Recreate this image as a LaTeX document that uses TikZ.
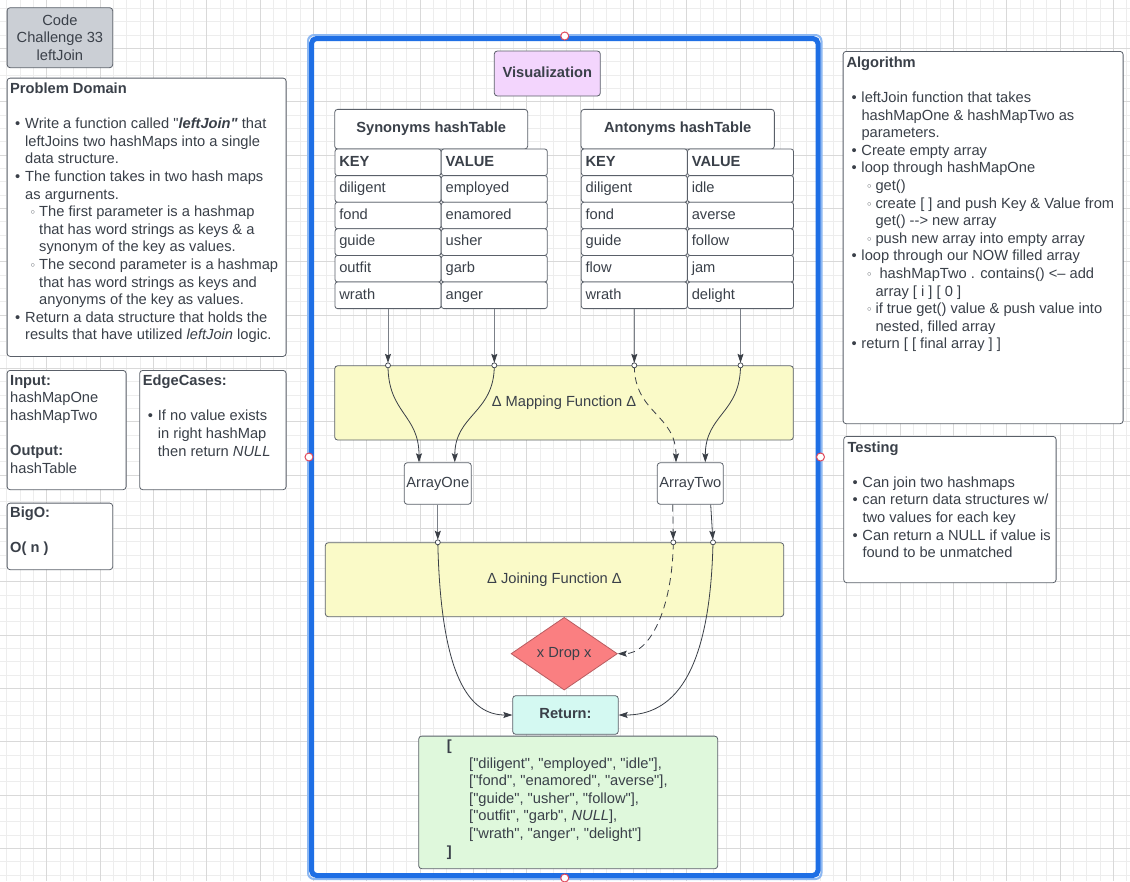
\documentclass[tikz,border=0pt]{standalone}
\usepackage{fontspec}
\setmainfont{Liberation Sans}[Ligatures=TeXOff]
\newfontfamily\symf{DejaVu Sans}
\usetikzlibrary{arrows.meta,shapes.geometric}

\definecolor{txtgray}{HTML}{3A4049}
\definecolor{edgegray}{HTML}{5A6069}
\definecolor{titlefill}{HTML}{CBCFD5}
\definecolor{vizfill}{HTML}{F3D5FD}
\definecolor{funcfill}{HTML}{FAFAC8}
\definecolor{dropfill}{HTML}{FA7F81}
\definecolor{dropedge}{HTML}{B85C60}
\definecolor{retfill}{HTML}{D4F9F2}
\definecolor{resfill}{HTML}{DFF8DC}
\definecolor{framblue}{HTML}{1F6FE5}
\definecolor{framlight}{HTML}{8DB8F2}
\definecolor{handlered}{HTML}{E0485A}
\definecolor{wire}{HTML}{3A3F47}
\definecolor{wiregray}{HTML}{7B8088}
\definecolor{minorgrid}{HTML}{EDEDED}
\definecolor{majorgrid}{HTML}{D9D9D9}

\newcommand{\fsz}{\fontsize{14.67}{17.6}\selectfont}
\newcommand{\pbul}{\hspace*{5pt}\makebox[10pt][l]{•}}
\newcommand{\pcont}{\hspace*{15pt}}
\newcommand{\sbul}{\hspace*{19.5pt}\makebox[9.5pt][l]{\symf\fontsize{11}{11}\selectfont ◦}}
\newcommand{\scont}{\hspace*{29pt}}
\newcommand{\rind}{\hspace*{22.3pt}}

\begin{document}
\begin{tikzpicture}[x=1pt,y=-1pt,
  every node/.style={font=\fsz, text=txtgray},
  panel/.style={draw=edgegray, fill=white, rounded corners=3pt, line width=0.8pt, inner sep=0, anchor=north west},
  blurb/.style={inner sep=0, align=left, anchor=north west},
  roundbox/.style={draw=edgegray, rounded corners=3pt, line width=0.8pt, inner sep=0, text height=10.5pt, text depth=3pt, align=center},
  cell/.style={draw=edgegray, fill=white, rounded corners=2.5pt, line width=0.8pt, minimum height=26.6pt, text width=97.4pt, inner xsep=4.3pt, inner ysep=0, text height=10.5pt, text depth=3pt, align=left},
  port/.style={circle, draw=wire, fill=white, line width=0.7pt, inner sep=0, minimum size=5pt},
  handle/.style={circle, draw=handlered, fill=white, line width=1pt, inner sep=0, minimum size=8pt},
  wire/.style={draw=wire, line width=0.8pt, -{Stealth[length=9pt, width=6pt, inset=1.5pt]}},
  feed/.style={wire, draw=wiregray, -{Stealth[length=9pt, width=6pt, inset=1.5pt, color=wire]}},
  dropline/.style={dash pattern=on 7pt off 5pt},
  toport/.style={shorten >=2.5pt},
  gridminor/.style={draw=minorgrid, line width=0.8pt},
  gridmajor/.style={draw=majorgrid, line width=0.8pt}]

\useasboundingbox (0,0) rectangle (1130,881);
\fill[white] (0,0) rectangle (1130,881);

% grid paper
\foreach \i in {0,...,85} \draw[gridminor] ({-6.67+13.333*\i},0) -- ++(0,881);
\foreach \i in {0,...,67} \draw[gridminor] (0,{-4.93+13.333*\i}) -- ++(1130,0);
\foreach \i in {0,...,21} \draw[gridmajor] ({-6.67+53.333*\i},0) -- ++(0,881);
\foreach \i in {0,...,17} \draw[gridmajor] (0,{-4.93+53.333*\i}) -- ++(1130,0);

% left column
\node[panel, fill=titlefill, minimum width=105.6pt, minimum height=60pt, align=center] (title) at (6.7,7.3) {Code\\Challenge 33\\leftJoin};

\node[panel, minimum width=279pt, minimum height=278.3pt] (pd) at (6.7,77.7) {};
\node[blurb] (pdtext) at (10,82.6) {\textbf{Problem Domain}\\[17.6pt]
  \pbul Write a function called "\textbf{\textit{leftJoin"}} that\\
  \pcont leftJoins two hashMaps into a single\\
  \pcont data structure.\\
  \pbul The function takes in two hash maps\\
  \pcont as argurnents.\\
  \sbul The first parameter is a hashmap\\
  \scont that has word strings as keys \& a\\
  \scont synonym of the key as values.\\
  \sbul The second parameter is a hashmap\\
  \scont that has word strings as keys and\\
  \scont anyonyms of the key as values.\\
  \pbul Return a data structure that holds the\\
  \pcont results that have utilized \textit{leftJoin} logic.};

\node[panel, minimum width=119pt, minimum height=119.3pt] (inp) at (6.7,370) {};
\node[blurb] (inptext) at (10,374.8) {\textbf{Input:}\\hashMapOne\\hashMapTwo\\[17.6pt]\textbf{Output:}\\hashTable};

\node[panel, minimum width=146.4pt, minimum height=119.3pt] (edge) at (139.3,370) {};
\node[blurb] (edgetext) at (142.7,374.8) {\textbf{EdgeCases:}\\[17.6pt]
  \pbul If no value exists\\
  \pcont in right hashMap\\
  \pcont then return \textit{NULL}};

\node[panel, minimum width=105.6pt, minimum height=66.6pt] (bigo) at (6.7,502.7) {};
\node[blurb] (bigotext) at (10,506.3) {\textbf{BigO:}\\[17.6pt]\textbf{O( n )}};

% right column
\node[panel, minimum width=280pt, minimum height=372.3pt] (algo) at (842.7,51) {};
\node[blurb] (algotext) at (846.3,56.5) {\textbf{Algorithm}\\[17.6pt]
  \pbul leftJoin function that takes\\
  \pcont hashMapOne \& hashMapTwo as\\
  \pcont parameters.\\
  \pbul Create empty array\\
  \pbul loop through hashMapOne\\
  \sbul get()\\
  \sbul create [ ] and push Key \& Value from\\
  \scont get() --> new array\\
  \sbul push new array into empty array\\
  \pbul loop through our NOW filled array\\
  \sbul \ hashMapTwo . contains() <– add\\
  \scont array [ i ] [ 0 ]\\
  \sbul if true get() value \& push value into\\
  \scont nested, filled array\\
  \pbul return [ [ final array ] ]};

\node[panel, minimum width=212.4pt, minimum height=146.3pt] (test) at (843.3,436) {};
\node[blurb] (testtext) at (847.3,441.3) {\textbf{Testing}\\[17.6pt]
  \pbul Can join two hashmaps\\
  \pbul can return data structures w/\\
  \pcont two values for each key\\
  \pbul Can return a NULL if value is\\
  \pcont found to be unmatched};

% visualization frame
\draw[framlight, line width=2pt, rounded corners=6pt] (308,35) rectangle (821.5,879);
\node[draw=framblue, line width=5pt, rounded corners=5pt, minimum width=506.5pt, minimum height=837pt, inner sep=0] (vizframe) at (564.75,457) {};

\node[roundbox, fill=vizfill, minimum width=106pt, minimum height=45pt, font=\fsz\bfseries] (viz) at (547.3,73.5) {Visualization};

% hash tables
\node[roundbox, fill=white, minimum width=193pt, minimum height=39.7pt, font=\fsz\bfseries] (synhead) at (431.2,129.2) {Synonyms hashTable};
\node[roundbox, fill=white, minimum width=193.3pt, minimum height=39.7pt, font=\fsz\bfseries] (anthead) at (677.7,129.2) {Antonyms hashTable};

\node[cell, font=\fsz\bfseries] (s-k0) at (388,162.3) {KEY};
\node[cell, font=\fsz\bfseries] (s-v0) at (494.3,162.3) {VALUE};
\foreach \k/\v [count=\r] in {diligent/employed, fond/enamored, guide/usher, outfit/garb, wrath/anger}{
  \node[cell] (s-k\r) at (388,{162.3+26.6*\r}) {\k};
  \node[cell] (s-v\r) at (494.3,{162.3+26.6*\r}) {\v};
}
\node[cell, font=\fsz\bfseries] (a-k0) at (634.3,162.3) {KEY};
\node[cell, font=\fsz\bfseries] (a-v0) at (740.5,162.3) {VALUE};
\foreach \k/\v [count=\r] in {diligent/idle, fond/averse, guide/follow, flow/jam, wrath/delight}{
  \node[cell] (a-k\r) at (634.3,{162.3+26.6*\r}) {\k};
  \node[cell] (a-v\r) at (740.5,{162.3+26.6*\r}) {\v};
}

% functions and arrays
\node[roundbox, fill=funcfill, minimum width=458.6pt, minimum height=74.3pt] (map) at (564,402.9) {Δ Mapping Function Δ};
\node[roundbox, fill=white, minimum width=67pt, minimum height=41.6pt] (arr1) at (437.8,483.5) {ArrayOne};
\node[roundbox, fill=white, minimum width=66pt, minimum height=41.6pt] (arr2) at (690.3,483.5) {ArrayTwo};
\node[roundbox, fill=funcfill, minimum width=458.4pt, minimum height=74pt] (join) at (554.5,579.7) {Δ Joining Function Δ};
\node[diamond, draw=dropedge, fill=dropfill, line width=0.8pt, minimum width=106.3pt, minimum height=72.7pt, inner sep=0, text height=10.5pt, text depth=3pt] (drop) at (564.2,653.7) {x Drop x};
\node[roundbox, fill=retfill, minimum width=105.6pt, minimum height=38.6pt, font=\fsz\bfseries] (ret) at (565.5,715) {Return:};

\node[panel, fill=resfill, minimum width=299pt, minimum height=132.6pt] (res) at (418.3,735.7) {};
\node[blurb] (restext) at (446.7,739.7) {{\bfseries [}\\
  \rind["diligent", "employed", "idle"],\\
  \rind["fond", "enamored", "averse"],\\
  \rind["guide", "usher", "follow"],\\
  \rind["outfit", "garb", \textit{NULL}],\\
  \rind["wrath", "anger", "delight"]\\
  {\bfseries ]}};

% connectors
\coordinate (m1) at (s-k5.south |- map.north);
\coordinate (m2) at (s-v5.south |- map.north);
\coordinate (m3) at (a-k5.south |- map.north);
\coordinate (m4) at (a-v5.south |- map.north);
\foreach \c/\m in {s-k5/m1, s-v5/m2, a-k5/m3, a-v5/m4}
  \draw[feed, toport] (\c.south) -- (\m);

\draw[wire] (m1) .. controls +(0,48) and +(0,-48) .. ([xshift=-18.8pt]arr1.north);
\draw[wire] (m2) .. controls +(0,48) and +(0,-48) .. ([xshift=17pt]arr1.north);
\draw[wire, dropline] (m3) .. controls +(0,48) and +(0,-48) .. ([xshift=-14.3pt]arr2.north);
\draw[wire] (m4) .. controls +(0,48) and +(0,-48) .. ([xshift=15pt]arr2.north);

\coordinate (j1) at (arr1.south |- join.north);
\coordinate (j2) at ([xshift=-17pt]arr2.south |- join.north);
\coordinate (j3) at ([xshift=22.7pt]arr2.south |- join.north);
\draw[feed, toport] (arr1.south) -- (j1);
\draw[wire, dropline, toport] ([xshift=-17.6pt]arr2.south) -- (j2);
\draw[wire, toport] ([xshift=20.4pt]arr2.south) -- (j3);

\draw[wire] (j1) .. controls +(3,137) and +(-42,0) .. (ret.west);
\draw[wire] (j3) .. controls +(-3,137) and +(52,0) .. (ret.east);
\draw[wire, dropline] (j2) .. controls +(-1,67) and +(32,0) .. (drop.east);

\foreach \p in {m1,m2,m3,m4,j1,j2,j3} \node[port] (port-\p) at (\p) {};
\foreach \a in {north,south,east,west} \node[handle] (handle-\a) at (vizframe.\a) {};
\end{tikzpicture}
\end{document}
